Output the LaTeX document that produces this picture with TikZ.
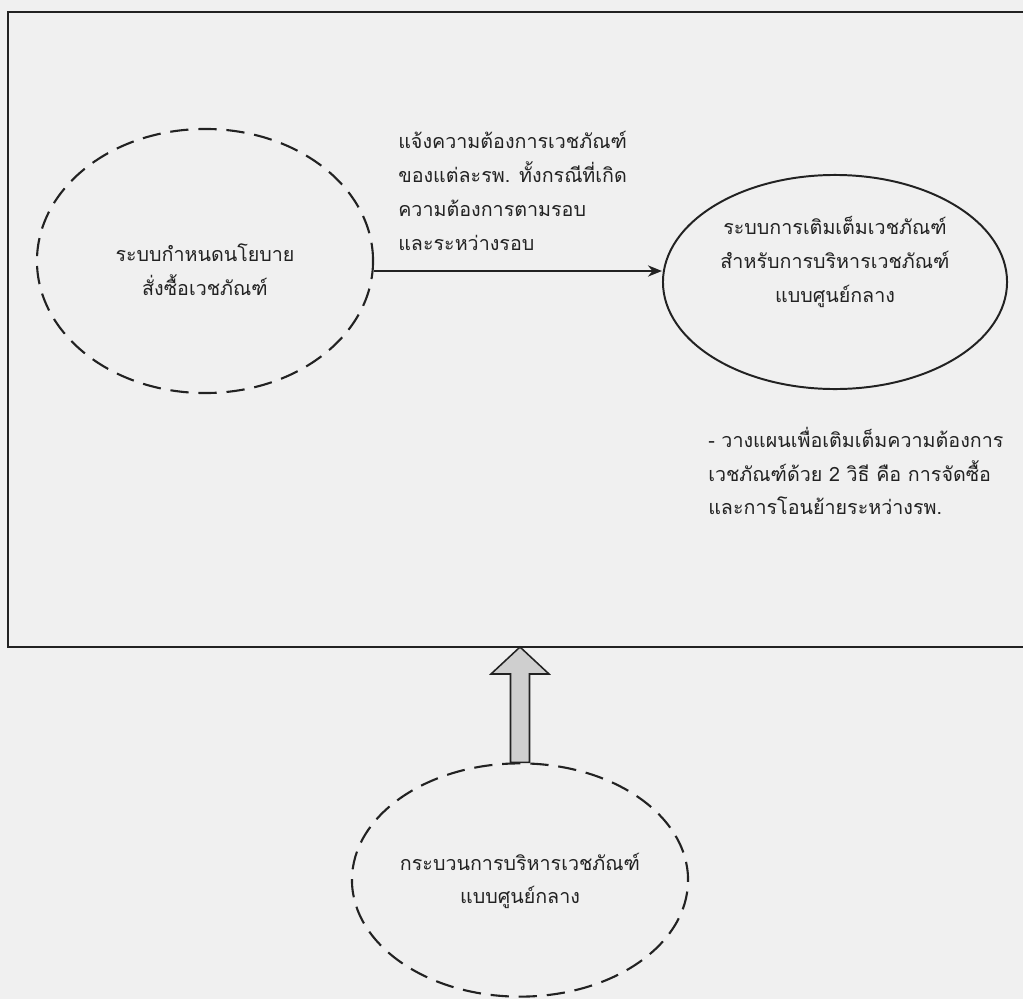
\documentclass[tikz,border=0pt]{standalone}
\usepackage{fontspec}
\setmainfont[Script=Thai]{Loma}
\usetikzlibrary{shapes.geometric,arrows.meta,positioning,calc}
\definecolor{pageGray}{HTML}{F0F0F0}
\definecolor{arrowGray}{HTML}{CFCFCF}
\definecolor{inkDark}{HTML}{222222}

\begin{document}
\begin{tikzpicture}[
    x=0.025cm, y=-0.025cm,
    dashedoval/.style={ellipse, draw=inkDark, line width=1.5pt, dash pattern=on 13pt off 7pt, inner sep=0pt},
    solidoval/.style={ellipse, draw=inkDark, line width=1.4pt, inner sep=0pt},
    txt/.style={font=\fontsize{14}{24}\selectfont, text=inkDark, inner sep=0pt},
    flow/.style={-{Stealth[length=10pt,width=8pt]}, line width=1.1pt, draw=inkDark},
]
    \fill[pageGray] (0,0) rectangle (1023,999);
    \useasboundingbox (0,0) rectangle (1023,999);
    % outer frame (right side runs off the page)
    \draw[line width=1.1pt, inkDark] (8,12) rectangle (1040,647);
    \coordinate (fbot) at (0,647);
    \coordinate (lvl) at (0,271);

    \node[dashedoval, minimum width=8.4cm, minimum height=6.6cm] (pol) at (205,261) {};
    \node[txt, align=center] (poltxt) at (205,270) {ระบบกำหนดนโยบาย\\สั่งซื้อเวชภัณฑ์};

    \node[solidoval, minimum width=8.6cm, minimum height=5.35cm] (rep) at (835,282) {};
    \node[txt, align=center] (reptxt) at (835,262)
        {ระบบการเติมเต็มเวชภัณฑ์\\สำหรับการบริหารเวชภัณฑ์\\แบบศูนย์กลาง};

    \node[txt, align=left, anchor=west] (reqtxt) at (398,191)
        {แจ้งความต้องการเวชภัณฑ์\\ของแต่ละรพ. ทั้งกรณีที่เกิด\\ความต้องการตามรอบ\\และระหว่างรอบ};
    \node[txt, align=left, anchor=west] (plantxt) at (708,471)
        {- วางแผนเพื่อเติมเต็มความต้องการ\\เวชภัณฑ์ด้วย 2 วิธี คือ การจัดซื้อ\\และการโอนย้ายระหว่างรพ.};

    \node[dashedoval, minimum width=8.4cm, minimum height=5.83cm] (proc) at (520,880) {};
    \node[txt, align=center] (proctxt) at (520,881) {กระบวนการบริหารเวชภัณฑ์\\แบบศูนย์กลาง};

    \draw[flow] (pol.east |- lvl) -- (rep.west |- lvl);

    % block arrow up into the frame
    \coordinate (tip) at (proc.north |- fbot);
    \draw[line width=1.1pt, draw=inkDark, fill=arrowGray]
        ($(proc.north)+(-9.5,0)$) -- ($(tip)+(-9.5,27)$) -- ($(tip)+(-29,27)$) -- (tip)
        -- ($(tip)+(29,27)$) -- ($(tip)+(9.5,27)$) -- ($(proc.north)+(9.5,0)$) -- cycle;
\end{tikzpicture}
\end{document}
